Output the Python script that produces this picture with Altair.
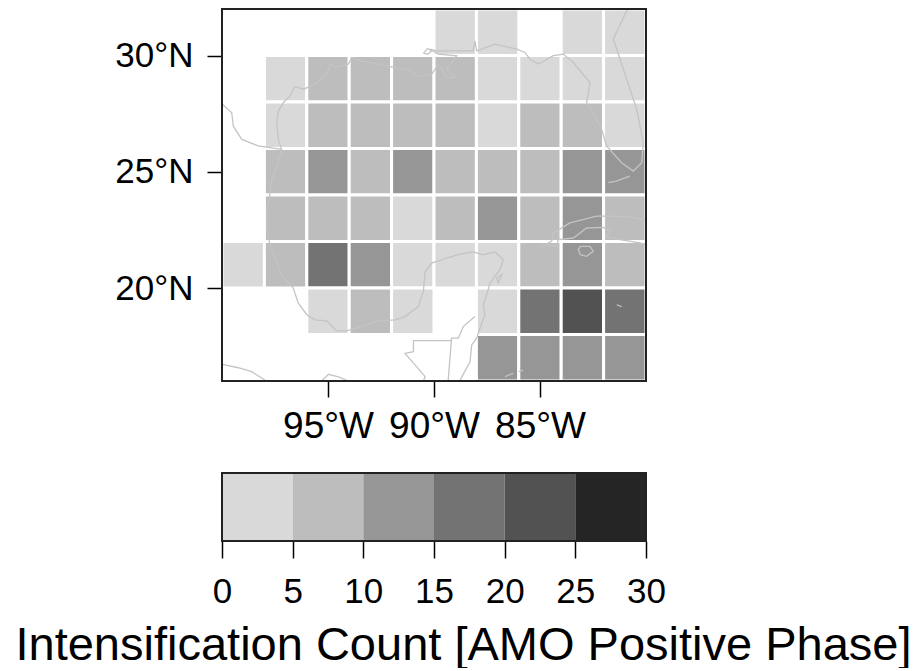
import altair as alt
import pandas as pd

lat_south = [30, 28, 26, 24, 22, 20, 18, 16]
lon_west = [-100, -98, -96, -94, -92, -90, -88, -86, -84, -82]
# counts per 2-degree cell, north to south, west to east (0 = no cell drawn)
counts = [
    [0, 0, 0, 0, 0, 3, 3, 0, 3, 3],
    [0, 3, 8, 8, 8, 8, 3, 3, 3, 3],
    [0, 3, 8, 8, 8, 8, 3, 8, 8, 3],
    [0, 8, 13, 8, 13, 8, 8, 8, 13, 13],
    [0, 8, 8, 8, 3, 8, 13, 8, 13, 8],
    [3, 8, 18, 13, 3, 3, 3, 8, 13, 8],
    [0, 0, 3, 8, 3, 0, 3, 18, 23, 18],
    [0, 0, 0, 0, 0, 0, 13, 13, 13, 13],
]
breaks = [5, 10, 15, 20, 25]
greys = ["#D9D9D9", "#BDBDBD", "#969696", "#737373", "#525252", "#252525"]
bar_edges = [0, 5, 10, 15, 20, 25, 30]
bar_mids = [2.5, 7.5, 12.5, 17.5, 22.5, 27.5]
lon_range = [-100, -80]
lat_range = [16, 32]

gulf_coast = [(-90.11,29.2),(-90.74,29.1),(-91.29,29.41),(-91.84,29.48),(-92.63,29.63),(-93.41,29.77),(-93.88,29.91),(-94.04,29.63),(-94.67,29.48),(-94.91,29.63),(-95.06,29.2),(-95.61,28.76),(-96.16,28.55),(-96.56,28.66),(-96.79,28.26),(-97.11,27.97),(-97.34,27.61),(-97.42,27.11),(-97.34,26.39),(-97.19,25.96),(-97.34,25.39),(-97.66,24.67),(-97.77,23.81),(-97.89,23.3),(-97.89,22.58),(-97.74,21.86),(-97.5,21.29),(-97.19,20.57),(-96.64,20.0),(-96.4,19.35),(-96.0,18.85),(-95.61,18.63),(-95.06,18.59),(-94.59,18.16),(-94.12,18.16),(-93.41,18.34),(-92.63,18.59),(-91.84,18.63),(-91.37,18.77),(-90.74,19.2),(-90.5,19.85),(-90.42,20.71),(-90.11,21.07),(-89.4,21.29),(-88.77,21.46),(-88.15,21.55),(-87.67,21.43),(-87.12,21.55),(-86.73,21.22),(-86.89,20.79),(-87.36,20.21),(-87.49,19.78),(-87.67,19.28),(-87.6,18.85),(-87.83,18.27),(-87.99,17.84),(-88.22,17.55),(-88.3,16.83),(-88.77,16.04)]
belize_border = [(-88.07,18.77),(-88.62,18.34),(-88.85,17.84),(-89.17,17.84),(-89.33,16.04)]
guatemala_border = [(-89.17,17.74),(-90.97,17.74),(-90.97,17.26),(-91.37,17.19),(-90.82,16.62),(-90.42,16.19),(-90.5,16.0)]
rio_grande = [(-99.98,27.9),(-99.54,27.54),(-99.47,26.97),(-99.07,26.39),(-98.29,26.11),(-97.19,25.96)]
pacific_a = [(-99.98,16.72),(-99.23,16.57),(-98.6,16.4),(-97.97,16.04)]
pacific_b = [(-95.3,16.0),(-94.98,16.29),(-94.51,16.18),(-94.04,16.0)]
east_coast = [(-90.19,30.27),(-89.88,30.2),(-88.15,30.2),(-88.07,30.63),(-87.99,30.2),(-87.12,30.49),(-86.1,30.27),(-85.71,30.13),(-85.47,29.84),(-85.08,29.63),(-84.37,29.99),(-83.9,30.06),(-83.43,29.7),(-82.64,28.84),(-82.8,27.97),(-82.49,27.54),(-82.09,26.82),(-81.86,26.11),(-81.15,25.39),(-80.6,25.03),(-80.2,25.39),(-80.13,26.25),(-80.44,27.69),(-80.91,28.98),(-81.54,30.71),(-80.91,31.93),(-80.76,32.03)]
delta = [(-90.11,29.2),(-89.8,29.6),(-89.72,29.56),(-89.4,29.05),(-89.0,29.05),(-89.4,29.41),(-88.93,29.99),(-89.8,30.06),(-90.19,30.27)]
pontchartrain = [(-90.5,30.1),(-90.3,30.3),(-90.1,30.2),(-90.3,30.05),(-90.5,30.1)]
keys = [(-81.78,24.53),(-81.4,24.6),(-80.76,24.81)]
cuba_north = [(-84.92,21.79),(-84.45,22.01),(-84.37,22.37),(-83.59,22.8),(-82.33,23.09),(-81.39,23.09),(-80.6,23.04),(-80.05,22.94)]
cuba_south = [(-84.77,21.86),(-84.22,21.79),(-84.14,22.08),(-83.43,22.15),(-82.8,22.58),(-82.01,22.61),(-81.7,22.44),(-81.86,22.22),(-81.23,22.08),(-80.28,21.94),(-80.05,21.86)]
youth = [(-83.1,21.79),(-82.64,21.79),(-82.49,21.58),(-82.8,21.36),(-83.1,21.43),(-83.19,21.65),(-83.1,21.79)]
cozumel = [(-87.05,20.43),(-86.81,20.57),(-86.97,20.21),(-87.05,20.43)]
cayman = [(-81.38,19.28),(-81.15,19.2)]
bay_islands_a = [(-86.65,16.19),(-86.26,16.33)]
bay_islands_b = [(-86.0,16.4),(-85.79,16.47)]

outlines = [gulf_coast, belize_border, guatemala_border, rio_grande, pacific_a, pacific_b, east_coast, delta,
            pontchartrain, keys, cuba_north, cuba_south, youth, cozumel, cayman, bay_islands_a, bay_islands_b]

FONT = "Liberation Sans"

cells = pd.DataFrame(
    [
        {"lon": lo, "lon2": lo + 2, "lat": la, "lat2": la + 2, "n": n}
        for la, row in zip(lat_south, counts)
        for lo, n in zip(lon_west, row)
        if n > 0
    ]
)
lines = pd.DataFrame(
    [
        {"seg": i, "order": j, "lon": p[0], "lat": p[1]}
        for i, seg in enumerate(outlines)
        for j, p in enumerate(seg)
    ]
)
bar = pd.DataFrame({"a": bar_edges[:-1], "b": bar_edges[1:], "m": bar_mids})
frame_map = pd.DataFrame({"a": [lon_range[0]], "b": [lon_range[1]], "c": [lat_range[0]], "d": [lat_range[1]]})
frame_bar = pd.DataFrame({"a": [bar_edges[0]], "b": [bar_edges[-1]]})

xs = alt.Scale(domain=lon_range, nice=False, zero=False)
ys = alt.Scale(domain=lat_range, nice=False, zero=False)
bs = alt.Scale(domain=[bar_edges[0], bar_edges[-1]], nice=False, zero=False)
threshold = alt.Scale(type="threshold", domain=breaks, range=greys)

rects = (
    alt.Chart(cells)
    .mark_rect(stroke="white", strokeWidth=3, clip=True)
    .encode(
        x=alt.X(
            "lon:Q",
            scale=xs,
            title=None,
            axis=alt.Axis(
                values=[-95, -90, -85],
                labelExpr="abs(datum.value) + '°W'",
                grid=False,
                domain=False,
                tickSize=16,
                tickWidth=1.5,
                tickColor="#000",
                labelFont=FONT,
                labelFontSize=37,
                labelColor="#000",
                labelPadding=11,
                labelFlush=False,
                labelOverlap=False,
            ),
        ),
        x2="lon2:Q",
        y=alt.Y(
            "lat:Q",
            scale=ys,
            title=None,
            axis=alt.Axis(
                values=[20, 25, 30],
                labelExpr="datum.value + '°N'",
                grid=False,
                domain=False,
                tickSize=15,
                tickWidth=1.5,
                tickColor="#000",
                labelFont=FONT,
                labelFontSize=35,
                labelColor="#000",
                labelPadding=14,
            ),
        ),
        y2="lat2:Q",
        color=alt.Color("n:Q", scale=threshold, legend=None),
    )
)
coast = (
    alt.Chart(lines)
    .mark_line(color="#C4C4C4", strokeWidth=1.3, clip=True)
    .encode(
        x=alt.X("lon:Q", scale=xs),
        y=alt.Y("lat:Q", scale=ys),
        detail="seg:N",
        order="order:Q",
    )
)
map_frame = (
    alt.Chart(frame_map)
    .mark_rect(fill=None, stroke="#222", strokeWidth=2)
    .encode(
        x=alt.X("a:Q", scale=xs),
        x2="b:Q",
        y=alt.Y("c:Q", scale=ys),
        y2="d:Q",
    )
)
mapc = (rects + coast + map_frame).properties(width=424, height=372)

bar_rects = (
    alt.Chart(bar)
    .mark_rect()
    .encode(
        x=alt.X(
            "a:Q",
            scale=bs,
            title="Intensification Count [AMO Positive Phase]",
            axis=alt.Axis(
                values=bar_edges,
                grid=False,
                domain=False,
                tickSize=17,
                tickWidth=1.5,
                tickColor="#000",
                labelFont=FONT,
                labelFontSize=35,
                labelColor="#000",
                labelPadding=16,
                labelFlush=False,
                labelOverlap=False,
                titleFont=FONT,
                titleFontSize=47,
                titleFontWeight="normal",
                titleColor="#000",
                titlePadding=13,
                titleX=241,
                titleAnchor="middle",
            ),
        ),
        x2="b:Q",
        color=alt.Color("m:Q", scale=threshold, legend=None),
    )
)
bar_frame = (
    alt.Chart(frame_bar)
    .mark_rect(fill=None, stroke="#222", strokeWidth=2)
    .encode(x=alt.X("a:Q", scale=bs), x2="b:Q")
)
barc = (bar_rects + bar_frame).properties(width=424, height=68)

chart = (
    alt.vconcat(mapc, barc, spacing=28)
    .properties(padding=alt.Padding(left=6, top=0, right=0, bottom=0), background="white")
    .configure_view(stroke=None)
)
chart.save("out.html", embed_options={"renderer": "svg", "actions": False})
